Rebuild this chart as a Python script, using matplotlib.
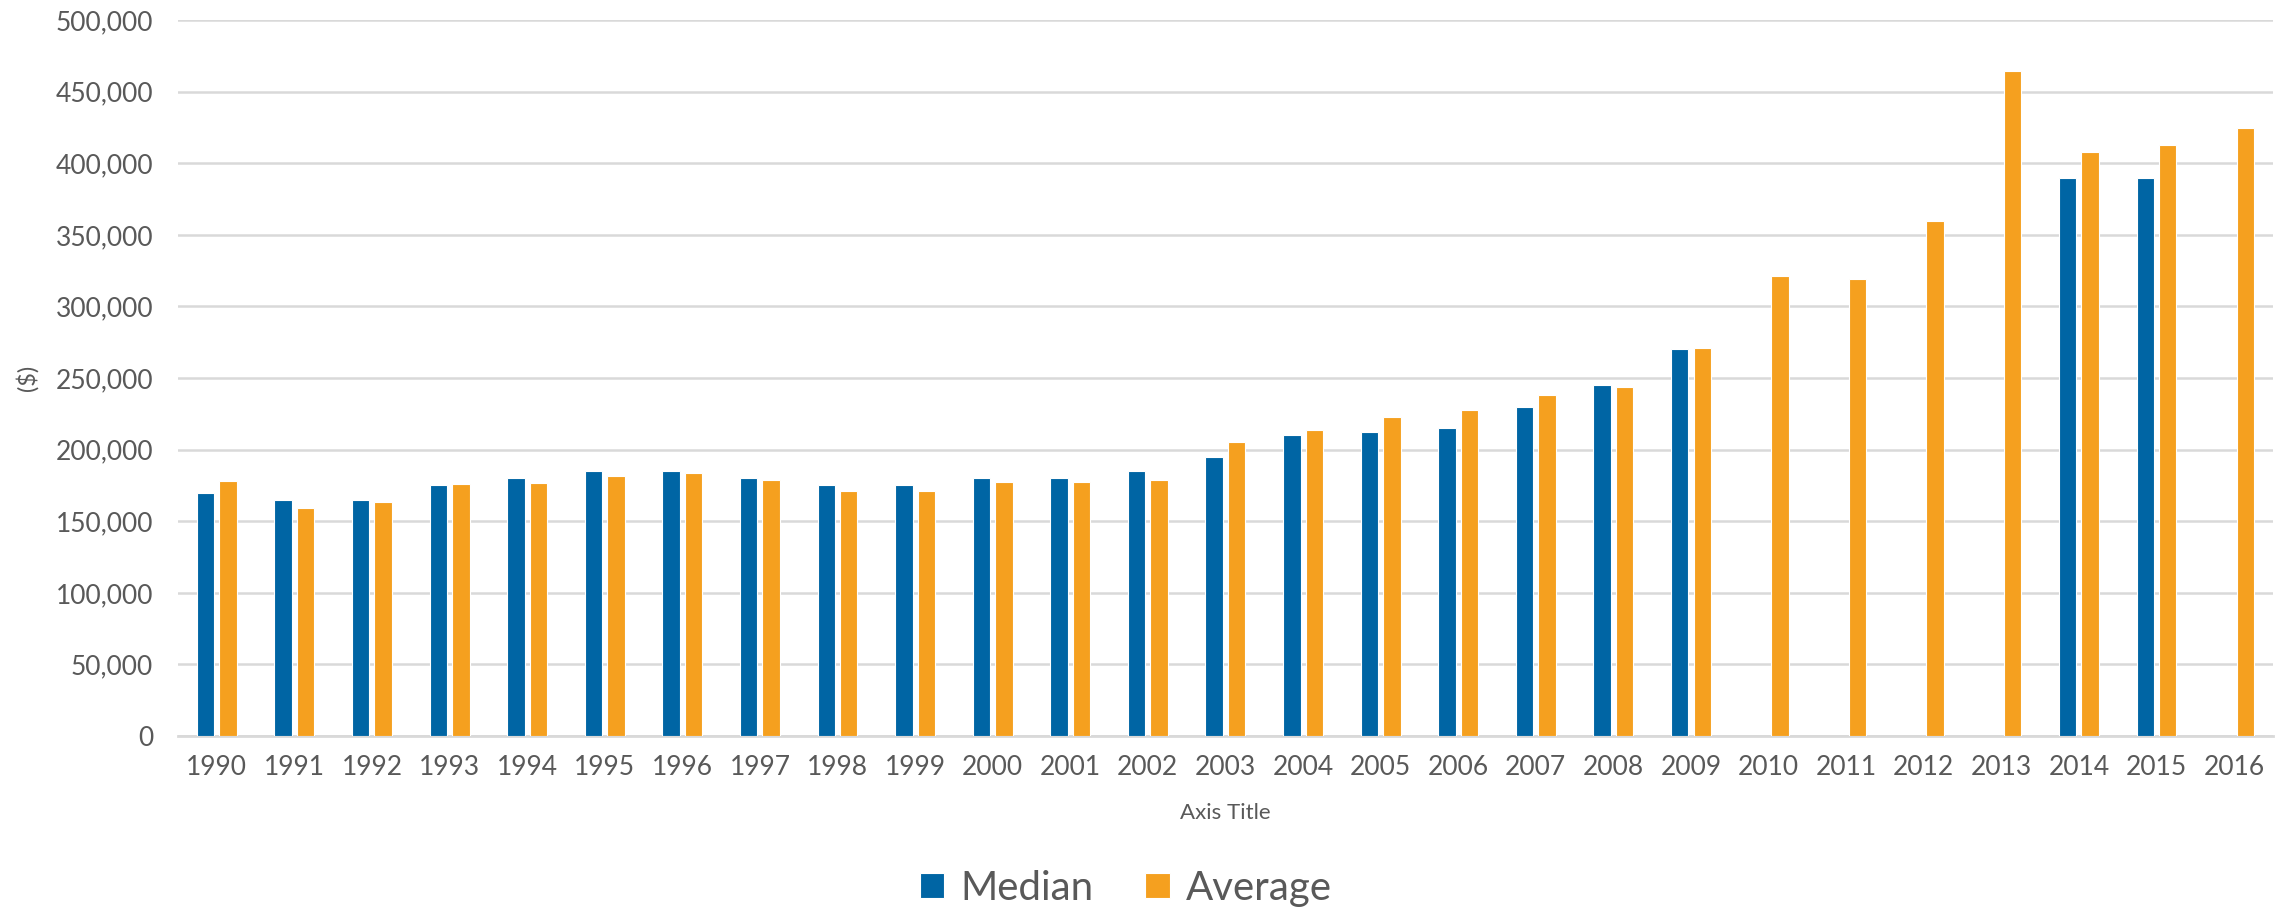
import numpy as np
import matplotlib.pyplot as plt
from matplotlib.ticker import FuncFormatter

years = list(range(1990, 2017))
median = [170000, 165000, 165000, 175000, 180000, 185000, 185000, 180000, 175000, 175000,
          180000, 180000, 185000, 195000, 210000, 212500, 215000, 230000, 245000, 270000,
          np.nan, np.nan, np.nan, np.nan, 390000, 390000, np.nan]
average = [178000, 159500, 163500, 176000, 176500, 181500, 183500, 178500, 171000, 171000,
           177500, 177500, 179000, 205500, 214000, 222500, 227500, 238500, 244000, 271000,
           321000, 319000, 360000, 464500, 408000, 412500, 424500]

blue = '#0065A4'
orange = '#F5A01F'
txt = '#595959'

plt.rcParams['font.family'] = ['Lato', 'DejaVu Sans']

fig = plt.figure(figsize=(22.88, 9.14), dpi=100)
ax = fig.add_axes([0.0778, 0.1947, 0.9156, 0.7833])

x = np.arange(len(years))
w = 0.225
ax.bar(x - 0.145, median, w, color=blue, edgecolor='white', linewidth=0.8, label='Median', zorder=3)
ax.bar(x + 0.145, average, w, color=orange, edgecolor='white', linewidth=0.8, label='Average', zorder=3)

ax.set_xlim(-0.5, len(years) - 0.5)
ax.set_ylim(0, 500000)
ax.set_yticks(range(0, 500001, 50000))
ax.yaxis.set_major_formatter(FuncFormatter(lambda v, p: '{:,.0f}'.format(v)))
ax.set_xticks(x)
ax.set_xticklabels([str(y) for y in years])
ax.grid(axis='y', color='#D9D9D9', linewidth=1.8, zorder=0)
ax.set_axisbelow(True)
for s in ['top', 'right', 'left']:
    ax.spines[s].set_visible(False)
ax.spines['bottom'].set_color('#D9D9D9')
ax.spines['bottom'].set_linewidth(2)
ax.tick_params(axis='both', length=0, labelsize=19, colors=txt)
ax.tick_params(axis='x', pad=14)
ax.tick_params(axis='y', pad=18)

ax.set_xlabel('Axis Title', fontsize=16, color=txt, labelpad=16)
ax.set_ylabel('($)', fontsize=17, color=txt, labelpad=12)

fig.legend(*ax.get_legend_handles_labels(), loc='center', bbox_to_anchor=(0.492, 0.028),
           ncol=2, frameon=False, fontsize=29, labelcolor=txt, handlelength=0.6,
           handleheight=0.6, handletextpad=0.4, columnspacing=1.3)

plt.savefig('out.png', dpi=100)
